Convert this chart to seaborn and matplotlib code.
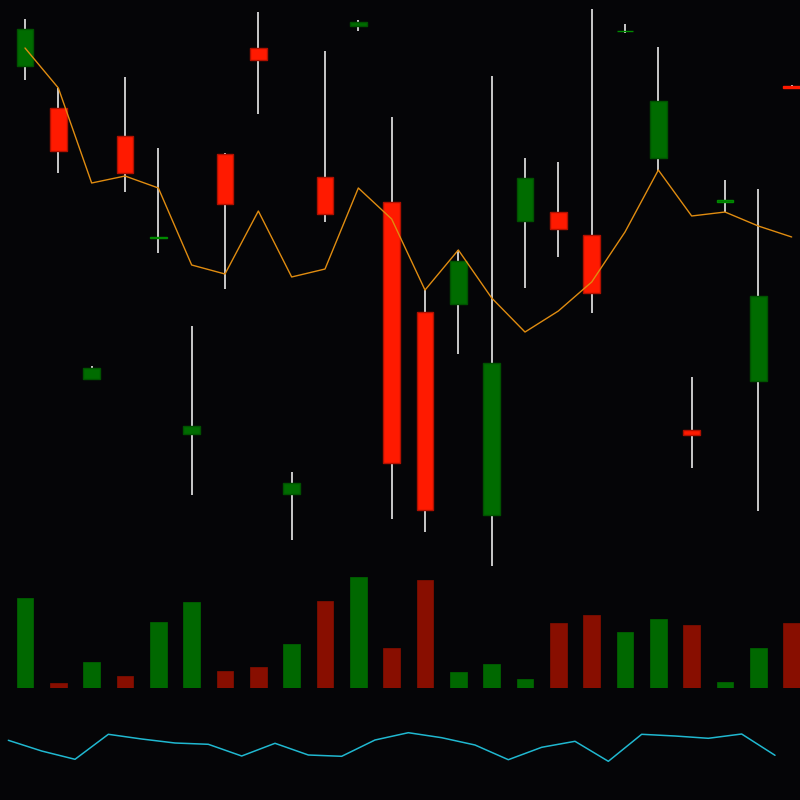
import numpy as np
import pandas as pd
import matplotlib
matplotlib.use("Agg")
import matplotlib.pyplot as plt
import seaborn as sns

# ---- data (arbitrary price units) ----
idx = list(range(24))
opens  = [88.21, 80.71, 32.41, 75.71, 57.57, 22.50, 72.50, 91.37, 11.79, 68.39, 95.27, 63.93,
          44.29, 45.80, 8.04, 60.54, 62.09, 58.04, 94.40, 71.70, 23.13, 63.98, 31.96, 84.62]
closes = [94.82, 73.04, 34.34, 69.11, 57.70, 23.93, 63.66, 89.29, 13.75, 61.70, 96.13, 17.32,
          8.93, 53.39, 35.18, 68.21, 59.02, 47.59, 94.54, 81.96, 22.41, 64.25, 47.14, 84.36]
highs  = [96.61, 84.29, 34.64, 86.25, 73.57, 41.79, 72.68, 97.91, 15.71, 90.89, 96.38, 79.11,
          48.21, 55.36, 86.50, 71.79, 71.02, 98.39, 95.63, 91.66, 32.68, 67.86, 66.25, 84.82]
lows   = [85.71, 69.11, 32.41, 65.71, 54.82, 11.61, 48.39, 79.59, 3.57, 60.36, 94.55, 7.32,
          5.00, 36.70, -1.07, 48.57, 54.16, 44.11, 94.05, 69.46, 16.34, 62.14, 8.75, 84.38]
ma     = [91.43, 84.29, 67.32, 68.57, 66.43, 52.68, 51.07, 62.32, 50.54, 51.96, 66.43, 60.89,
          48.21, 55.36, 46.79, 40.71, 44.46, 49.64, 58.57, 69.64, 61.43, 62.14, 59.64, 57.68]
volume = [903, 53, 260, 120, 660, 860, 173, 213, 437, 873, 1110, 397,
          1080, 160, 237, 90, 647, 733, 557, 690, 627, 60, 400, 647]
osc    = [59.7, 49.0, 40.7, 65.7, 61.0, 57.0, 55.7, 44.0, 56.7, 45.0, 43.7, 60.0,
          67.3, 62.3, 55.0, 40.3, 52.7, 58.7, 38.7, 65.7, 64.0, 61.7, 66.0, 44.7]

df = pd.DataFrame({"i": idx, "open": opens, "close": closes, "high": highs,
                   "low": lows, "ma": ma, "volume": volume, "osc": osc})
df["up"] = df["close"] >= df["open"]

BG = "#050507"
UP_BODY, UP_EDGE = "#006c00", "#005200"
DN_BODY, DN_EDGE = "#ff1a00", "#b01000"
UP_VOL, DN_VOL = "#006800", "#880e00"
WICK = "#d8d8d8"

sns.set_theme(style="dark")
plt.rcParams["font.family"] = ["DejaVu Sans"]

fig = plt.figure(figsize=(8, 8), dpi=100, facecolor=BG)
XL = (-0.75, 23.25)

ax_p = fig.add_axes([0, 1 - 588 / 800, 1, 588 / 800])
ax_v = fig.add_axes([0, 1 - 688 / 800, 1, 128 / 800])
ax_o = fig.add_axes([0, 0, 1, 100 / 800])
for a in (ax_p, ax_v, ax_o):
    a.set_facecolor("none")
fig.patch.set_facecolor(BG)

# wicks
ax_p.vlines(df["i"], df["low"], df["high"], color=WICK, lw=1.3, zorder=1)
# bodies
bottoms = np.minimum(df["open"], df["close"])
heights = np.abs(df["close"] - df["open"])
small = heights < 0.5
face = [UP_BODY if u else DN_BODY for u in df["up"]]
edge = []
for u, s in zip(df["up"], small):
    if s:
        edge.append("#008a00" if u else DN_BODY)
    else:
        edge.append(UP_EDGE if u else DN_EDGE)
ax_p.bar(df["i"], heights, bottom=bottoms, width=0.5,
         color=face, edgecolor=edge, linewidth=1.0, zorder=2)
# moving average
sns.lineplot(data=df, x="i", y="ma", ax=ax_p, color="#e08c10", lw=1.0, zorder=3)

# volume
ax_v.bar(df["i"], df["volume"], width=0.5,
         color=[UP_VOL if u else DN_VOL for u in df["up"]],
         edgecolor=[UP_VOL if u else DN_VOL for u in df["up"]], linewidth=0.5)

# oscillator line (offset half a slot)
df["ox"] = df["i"] - 0.5
sns.lineplot(data=df, x="ox", y="osc", ax=ax_o, color="#20b8d0", lw=1.1)

ax_p.set_ylim(-5, 100)
ax_v.set_ylim(0, 1280)
ax_o.set_ylim(0, 100)
for a in (ax_p, ax_v, ax_o):
    a.set_xlim(*XL)
    a.set_axis_off()

fig.savefig("out.png", dpi=100, facecolor=BG)
